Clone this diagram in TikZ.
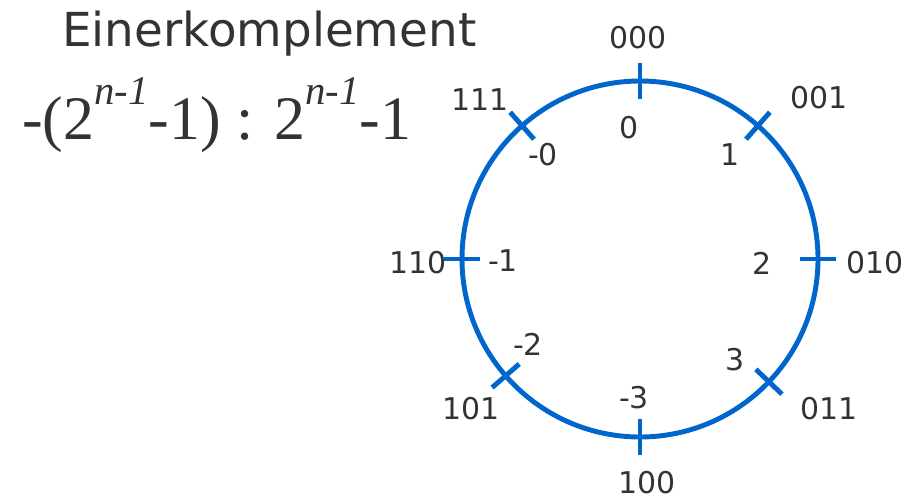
\documentclass[tikz,border=0pt]{standalone}
\usepackage{fontspec}
\setmainfont{DejaVu Sans}
\newfontfamily\formulafont{Liberation Serif}
\definecolor{ringblue}{HTML}{0066CC}
\definecolor{labelgray}{HTML}{333333}
\newcommand\supexp[1]{\raisebox{0.56em}{\fontsize{29}{29}\selectfont\itshape #1}}

\begin{document}
\begin{tikzpicture}[x=0.025cm,y=0.025cm,
lbl/.style={text=labelgray,font=\fontsize{21.3}{24}\selectfont,inner sep=0pt},
ring/.style={draw=ringblue,line width=3.5pt},
ringtick/.style={draw=ringblue,line width=3.5pt}]
\useasboundingbox (0,0) rectangle (912,-499);
% heading and range
\node[text=labelgray,font=\fontsize{33.3}{36}\selectfont,inner sep=0pt,anchor=base west] (title) at (62,-47) {Einerkomplement};
\node[text=labelgray,font=\formulafont\fontsize{44}{46}\selectfont,inner sep=0pt,anchor=base west] (range) at (22,-139)
{-(2\supexp{n-1}-1) : 2\supexp{n-1}-1};
% number circle
\coordinate (c) at (640,-259);
\draw[ring] (c) circle[radius=178];
\foreach \a in {90,48.5,0,-43.6,-90,221,180,131.5}
  \draw[ringtick] ([shift={(\a:160)}]c) -- ([shift={(\a:196)}]c);
% bit patterns
\node[lbl] (b000) at (638,-38) {000};
\node[lbl] (b001) at (819,-98) {001};
\node[lbl] (b010) at (875,-263) {010};
\node[lbl] (b011) at (829,-409) {011};
\node[lbl] (b100) at (647,-483) {100};
\node[lbl] (b101) at (471,-409) {101};
\node[lbl] (b110) at (418,-263) {110};
\node[lbl] (b111) at (480,-100) {111};
% values
\node[lbl] (d0) at (629,-128) {0};
\node[lbl] (d1) at (730,-155) {1};
\node[lbl] (d2) at (762,-263) {2};
\node[lbl] (d3) at (735,-360) {3};
\node[lbl] (dm3) at (634,-398) {-3};
\node[lbl] (dm2) at (528,-344) {-2};
\node[lbl] (dm1) at (503,-261) {-1};
\node[lbl] (dm0) at (543,-155) {-0};
\end{tikzpicture}
\end{document}
